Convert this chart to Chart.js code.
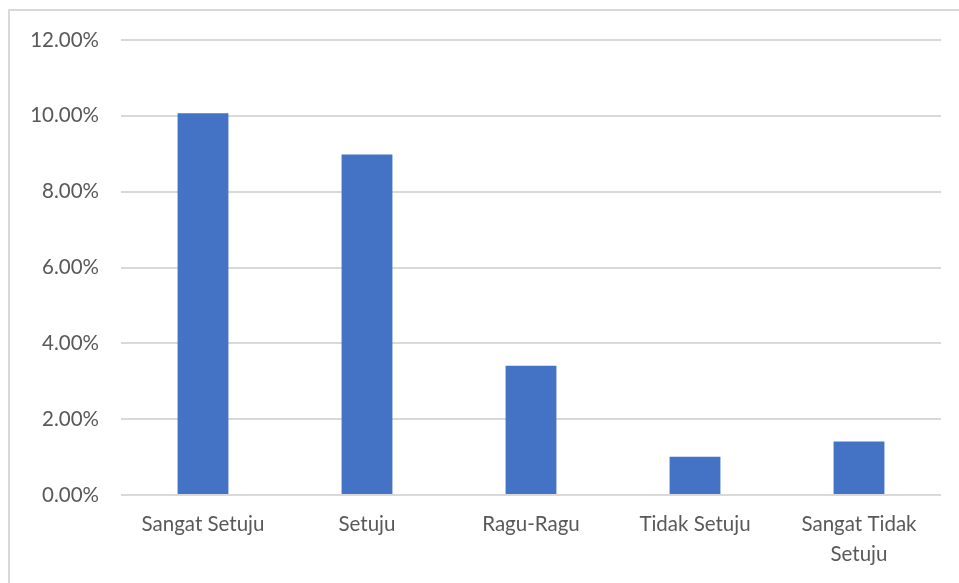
<!DOCTYPE html>
<html>
<head>
<meta charset="utf-8">
<script src="https://cdn.jsdelivr.net/npm/chart.js@4"></script>
<style>
  html, body { margin: 0; padding: 0; background: #fff; }
  #wrap { position: relative; width: 959px; height: 583px; overflow: hidden; }
  #frame { position: absolute; left: 8px; top: 9px; width: 980px; height: 620px; border: 2px solid #d9d9d9; box-sizing: border-box; }
  #c { position: absolute; left: 0; top: 0; }
</style>
</head>
<body>
<div id="wrap">
  <div id="frame"></div>
  <canvas id="c" width="959" height="583"></canvas>
</div>
<script>
const categories = ["Sangat Setuju", "Setuju", "Ragu-Ragu", "Tidak Setuju", ["Sangat Tidak", "Setuju"]];
const values = [10.07, 8.98, 3.41, 1.01, 1.41];
const yTicks = [0, 2, 4, 6, 8, 10, 12];

const FONT = "Lato, 'Open Sans', sans-serif";

new Chart(document.getElementById('c'), {
  type: 'bar',
  data: {
    labels: categories,
    datasets: [{
      data: values,
      backgroundColor: '#4472C4',
      borderWidth: 0,
      barPercentage: 0.31,
      categoryPercentage: 1.0
    }]
  },
  options: {
    responsive: false,
    animation: false,
    devicePixelRatio: 1,
    layout: { padding: { top: 40, right: 18, bottom: 0, left: 0 } },
    plugins: { legend: { display: false }, tooltip: { enabled: false } },
    scales: {
      x: {
        grid: { display: false, drawTicks: false },
        border: { display: false },
        ticks: { color: '#595959', font: { family: FONT, size: 20.5, lineHeight: 1.45 }, padding: 15, maxRotation: 0, autoSkip: false },
        afterFit: (s) => { s.height = 88; }
      },
      y: {
        min: 0, max: 12,
        afterBuildTicks: (s) => { s.ticks = yTicks.map(v => ({ value: v })); },
        grid: { color: '#d9d9d9', lineWidth: 2, drawTicks: false },
        border: { display: false },
        ticks: {
          color: '#595959',
          font: { family: FONT, size: 20.5 },
          padding: 22,
          callback: (v) => Number(v).toFixed(2) + '%'
        },
        afterFit: (s) => { s.width = 121; }
      }
    }
  }
});
</script>
</body>
</html>
